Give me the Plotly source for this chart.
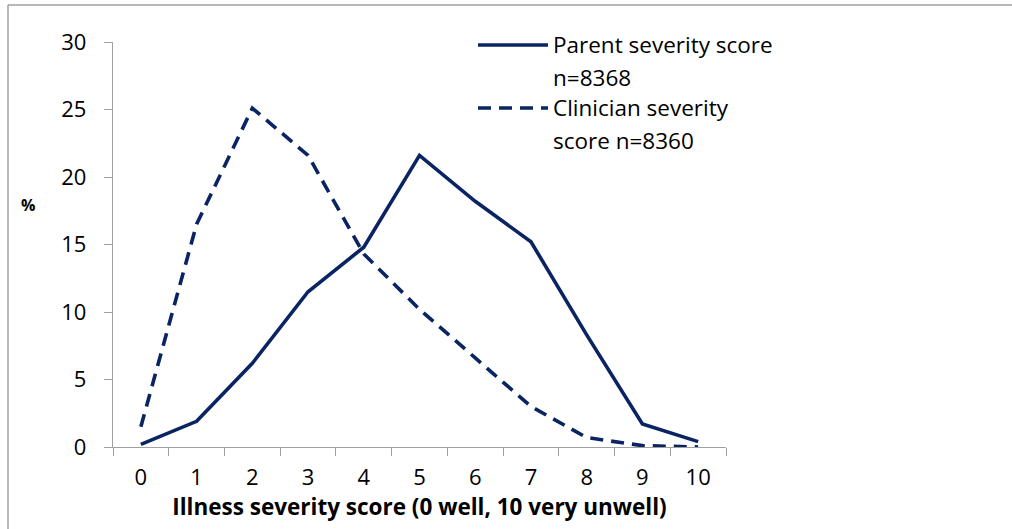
import plotly.graph_objects as go

scores = ["0", "1", "2", "3", "4", "5", "6", "7", "8", "9", "10"]
parent_pct = [0.2, 1.9, 6.2, 11.5, 14.8, 21.6, 18.2, 15.2, 8.3, 1.7, 0.4]
clinician_pct = [1.5, 16.5, 25.1, 21.6, 14.3, 10.2, 6.6, 3.0, 0.7, 0.1, 0.0]
series_names = [["Parent severity score", "n=8368"], ["Clinician severity", "score n=8360"]]
y_ticks = [0, 5, 10, 15, 20, 25, 30]

COLOR = "#0A2463"
AXIS = "#A0A0A0"
FONT = "Open Sans"
W, H = 1012, 529
L, R, T, B = 113, 286, 42, 82
PW, PH = W - L - R, H - T - B

def px(x):
    return (x - L) / PW

def py(y):
    return (H - B - y) / PH

fig = go.Figure()
fig.add_trace(go.Scatter(x=scores, y=parent_pct, mode="lines", name=" ".join(series_names[0]),
                         line=dict(color=COLOR, width=3.6)))
fig.add_trace(go.Scatter(x=scores, y=clinician_pct, mode="lines", name=" ".join(series_names[1]),
                         line=dict(color=COLOR, width=3.6, dash="13px,8px")))

fig.update_layout(
    width=W, height=H,
    margin=dict(l=L, r=R, t=T, b=B, autoexpand=False),
    paper_bgcolor="white", plot_bgcolor="white",
    showlegend=False,
    font=dict(family=FONT, size=22, color="black"),
)
fig.update_xaxes(type="category", range=[-0.5, 10.5], showgrid=False, zeroline=False,
                 showline=True, linecolor=AXIS, linewidth=1.3,
                 ticks="outside", ticklen=8, tickcolor=AXIS, tickwidth=1.3,
                 tickson="boundaries", tickfont=dict(size=22), ticklabelstandoff=10,
                 title=dict(text="<b>Illness severity score (0 well, 10 very unwell)</b>",
                            font=dict(size=22.5), standoff=2))
fig.update_yaxes(range=[0, 30], tickvals=y_ticks, showgrid=False, zeroline=False,
                 showline=True, linecolor=AXIS, linewidth=1.3,
                 ticks="outside", ticklen=8, tickcolor=AXIS, tickwidth=1.3,
                 tickfont=dict(size=22), ticklabelstandoff=13)

# "%" axis label
fig.add_annotation(text="<b>%</b>", x=px(28), y=py(205), xref="paper", yref="paper",
                   showarrow=False, font=dict(size=16), xanchor="center", yanchor="middle")

# outer border (top and left)
fig.add_shape(type="line", xref="paper", yref="paper", x0=px(8), x1=px(1012), y0=py(5), y1=py(5),
              line=dict(color=AXIS, width=1.5))
fig.add_shape(type="line", xref="paper", yref="paper", x0=px(8), x1=px(8), y0=py(5), y1=py(529),
              line=dict(color=AXIS, width=1.5))

# manual legend
leg = [(45, None), (108, "13px,8px")]
for (ly, dash), names in zip(leg, series_names):
    fig.add_shape(type="line", xref="paper", yref="paper", x0=px(478), x1=px(548), y0=py(ly), y1=py(ly),
                  line=dict(color=COLOR, width=3.6, dash=dash or "solid"))
    for i, t in enumerate(names):
        fig.add_annotation(text=t, x=px(551), y=py(ly + 33 * i - 1), xref="paper", yref="paper",
                           showarrow=False, xanchor="left", yanchor="middle", font=dict(size=22.5))

fig.write_html("out.html", config={"displayModeBar": False},
               post_script="document.body.style.margin='0';document.body.style.overflow='hidden';")
